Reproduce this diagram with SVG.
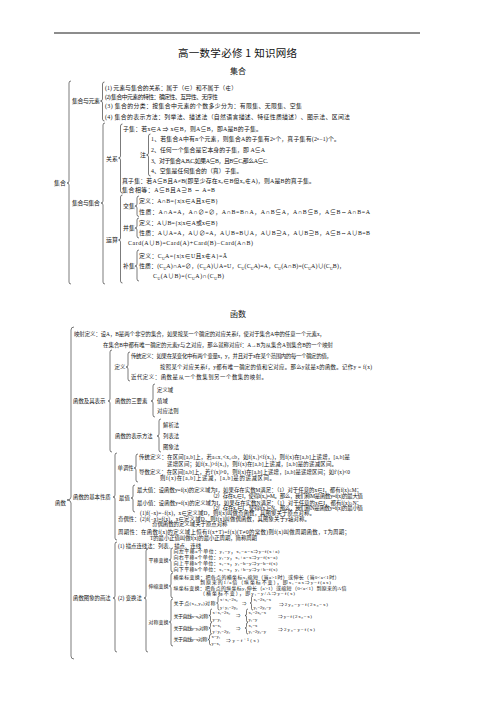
<svg xmlns="http://www.w3.org/2000/svg" width="501" height="709" viewBox="0 0 501 709">
<style>
text{font-family:"Liberation Serif","Noto Sans CJK SC",serif;fill:#111}
.a{font-size:5.9px}
.b{font-size:5.4px}
.c{font-size:5px}
.d{font-size:4.6px}
.s{font-size:3.8px}
.br{fill:none;stroke:#222;stroke-width:0.6}
.ttl{font-family:"Noto Sans CJK SC",sans-serif;font-size:10.5px}
.hd{font-family:"Noto Sans CJK SC",sans-serif;font-size:8px;text-anchor:middle}
</style>
<rect width="501" height="709" fill="#fff"/>
<line x1="54" y1="33" x2="420" y2="33" stroke="#000" stroke-width="0.9"/>
<g id="title"><text class="ttl" x="178" y="57" textLength="119">高一数学必修 1 知识网络</text></g>
<g id="head-jihe"><text class="hd" x="238" y="74">集合</text></g>
<g id="head-hanshu"><text class="hd" x="238" y="317">函数</text></g>

<g id="connectors">
<path class="br" d="M71,81 Q69,81 69,83 L69,181 Q69,183 67,183 Q69,183 69,185 L69,282 Q69,284 71,284"/>
<path class="br" d="M104.5,82 Q102.5,82 102.5,84 L102.5,99 Q102.5,101 100.5,101 Q102.5,101 102.5,103 L102.5,119 Q102.5,121 104.5,121"/>
<path class="br" d="M105,123 Q103,123 103,125 L103,201 Q103,203 101,203 Q103,203 103,205 L103,282 Q103,284 105,284"/>
<path class="br" d="M122.5,124 Q120.5,124 120.5,126 L120.5,156 Q120.5,158 118.5,158 Q120.5,158 120.5,160 L120.5,191 Q120.5,193 122.5,193"/>
<path class="br" d="M150.5,134 Q148.5,134 148.5,136 L148.5,153 Q148.5,155 146.5,155 Q148.5,155 148.5,157 L148.5,174 Q148.5,176 150.5,176"/>
<path class="br" d="M122.5,195 Q120.5,195 120.5,197 L120.5,238 Q120.5,240 118.5,240 Q120.5,240 120.5,242 L120.5,281 Q120.5,283 122.5,283"/>
<path class="br" d="M139,196 Q137,196 137,198 L137,204 Q137,206 135,206 Q137,206 137,208 L137,214.5 Q137,216.5 139,216.5"/>
<path class="br" d="M139,218 Q137,218 137,220 L137,226 Q137,228 135,228 Q137,228 137,230 L137,236 Q137,238 139,238"/>
<path class="br" d="M139,250 Q137,250 137,252 L137,264 Q137,266 135,266 Q137,266 137,268 L137,279 Q137,281 139,281"/>

<path class="br" d="M74,327 Q71,327 71,330 L71,497 Q71,500 67,500 Q71,500 71,503 L71,656 Q71,659 74,659"/>
<path class="br" d="M112,350 Q110,350 110,352 L110,399 Q110,401 108,401 Q110,401 110,403 L110,450 Q110,452 112,452"/>
<path class="br" d="M130,352 Q128,352 128,354 L128,365 Q128,367 126,367 Q128,367 128,369 L128,379 Q128,381 130,381"/>
<path class="br" d="M155,384 Q153,384 153,386 L153,399 Q153,401 151,401 Q153,401 153,403 L153,415 Q153,417 155,417"/>
<path class="br" d="M161,419 Q159,419 159,421 L159,434 Q159,436 157,436 Q159,436 159,438 L159,450 Q159,452 161,452"/>
<path class="br" d="M117,453 Q115,453 115,455 L115,495 Q115,497 113,497 Q115,497 115,499 L115,538 Q115,540 117,540"/>
<path class="br" d="M138,454 Q136,454 136,456 L136,466 Q136,468 134,468 Q136,468 136,470 L136,480 Q136,482 138,482"/>
<path class="br" d="M135,485 Q133,485 133,487 L133,496 Q133,498 131,498 Q133,498 133,500 L133,510 Q133,512 135,512"/>
<path class="br" d="M117,542 Q115,542 115,544 L115,596 Q115,598 113,598 Q115,598 115,600 L115,650 Q115,652 117,652"/>
<path class="br" d="M148,549 Q146,549 146,551 L146,596 Q146,598 144,598 Q146,598 146,600 L146,650 Q146,652 148,652"/>
<path class="br" d="M173,548 Q171,548 171,550 L171,558 Q171,560 169.2,560 Q171,560 171,562 L171,570 Q171,572 173,572"/>
<path class="br" d="M173,573 Q171,573 171,575 L171,584 Q171,586 169.2,586 Q171,586 171,588 L171,596 Q171,598 173,598"/>
<path class="br" d="M173,599 Q171,599 171,601 L171,620 Q171,622 169.2,622 Q171,622 171,624 L171,644 Q171,646 173,646"/>
<path class="br" d="M219.5,596 Q218,596 218,597.5 L218,601.5 Q218,603 216.5,603 Q218,603 218,604.5 L218,608.5 Q218,610 219.5,610"/>
<path class="br" d="M253,596 Q251.5,596 251.5,597.5 L251.5,601.5 Q251.5,603 250,603 Q251.5,603 251.5,604.5 L251.5,608.5 Q251.5,610 253,610"/>
<path class="br" d="M212,609 Q210.5,609 210.5,610.5 L210.5,614 Q210.5,615.5 209,615.5 Q210.5,615.5 210.5,617 L210.5,620.5 Q210.5,622 212,622"/>
<path class="br" d="M248,609 Q246.5,609 246.5,610.5 L246.5,614 Q246.5,615.5 245,615.5 Q246.5,615.5 246.5,617 L246.5,620.5 Q246.5,622 248,622"/>
<path class="br" d="M212,622.5 Q210.5,622.5 210.5,624 L210.5,626.5 Q210.5,628 209,628 Q210.5,628 210.5,629.5 L210.5,632.5 Q210.5,634 212,634"/>
<path class="br" d="M248,622.5 Q246.5,622.5 246.5,624 L246.5,626.5 Q246.5,628 245,628 Q246.5,628 246.5,629.5 L246.5,632.5 Q246.5,634 248,634"/>
<path class="br" d="M211,634.5 Q209.5,634.5 209.5,636 L209.5,638 Q209.5,639.5 208,639.5 Q209.5,639.5 209.5,641 L209.5,643.5 Q209.5,645 211,645"/>
</g>

<!-- 集合 section -->
<g id="n-jihe"><text class="a" x="54" y="185.2">集合</text></g>
<g id="n-jhyys"><text class="a" x="72" y="103.2" textLength="28">集合与元素</text></g>
<g id="n-e1"><text class="a" x="105" y="89.7">(1) 元素与集合的关系：属于（∈）和不属于（∉）</text></g>
<g id="n-e2"><text class="a" x="105" y="98.7" textLength="113">(2) 集合中元素的特性：确定性、互异性、无序性</text></g>
<g id="n-e3"><text class="a" x="105" y="107.7" textLength="197">(3) 集合的分类：按集合中元素的个数多少分为：有限集、无限集、空集</text></g>
<g id="n-e4"><text class="a" x="105" y="118.7" textLength="245">(4) 集合的表示方法：列举法、描述法（自然语言描述、特征性质描述）、图示法、区间法</text></g>
<g id="n-jhyjh"><text class="a" x="72" y="205.2" textLength="28">集合与集合</text></g>
<g id="n-guanxi"><text class="a" x="106" y="161">关系</text></g>
<g id="n-ziji"><text class="a" x="123" y="131.2" textLength="139">子集：若x∈A ⇒ x∈B，则A⊆B，即A是B的子集。</text></g>
<g id="n-zhu"><text class="a" x="140" y="157.2">注</text></g>
<g id="n-z1"><text class="a" x="151" y="141.2" textLength="189">1、若集合A中有n个元素，则集合A的子集有2ⁿ个，真子集有(2ⁿ−1)个。</text></g>
<g id="n-z2"><text class="a" x="151" y="151.7" textLength="114">2、任何一个集合是它本身的子集，即 A⊆A</text></g>
<g id="n-z3"><text class="a" x="151" y="162.7" textLength="117">3、对于集合A,B,C,如果A⊆B，且B⊆C,那么A⊆C.</text></g>
<g id="n-z4"><text class="a" x="151" y="173.2">4、空集是任何集合的（真）子集。</text></g>
<g id="n-zhenziji"><text class="a" x="122" y="183.2" textLength="193">真子集：若A⊆B且A≠B(即至少存在x₀∈B但x₀∉A)，则A是B的真子集。</text></g>
<g id="n-xiangdeng"><text class="a" x="122" y="192.2" textLength="93">集合相等：A⊆B且A⊇B ⇔ A=B</text></g>
<g id="n-yunsuan"><text class="a" x="106" y="242.2">运算</text></g>
<g id="n-jiaoji"><text class="a" x="123" y="208.2">交集</text></g>
<g id="n-jj1"><text class="a" x="139" y="203.2" textLength="79">定义：A∩B={x|x∈A且x∈B}</text></g>
<g id="n-jj2"><text class="a" x="139" y="214.2" textLength="231">性质：A∩A=A，A∩∅=∅，A∩B=B∩A，A∩B⊆A，A∩B⊆B，A⊆B⇔A∩B=A</text></g>
<g id="n-bingji"><text class="a" x="123" y="230.2">并集</text></g>
<g id="n-bj1"><text class="a" x="139" y="225.2" textLength="79">定义：A∪B={x|x∈A或x∈B}</text></g>
<g id="n-bj2"><text class="a" x="139" y="235.2" textLength="231">性质：A∪A=A，A∪∅=A，A∪B=B∪A，A∪B⊇A，A∪B⊇B，A⊆B⇔A∪B=B</text></g>
<g id="n-card"><text class="a" x="128" y="245.2" textLength="125">Card(A∪B)=Card(A)+Card(B)−Card(A∩B)</text></g>
<g id="n-buji"><text class="a" x="123" y="268.2">补集</text></g>
<g id="n-bu1"><text class="a" x="139" y="258.2" textLength="88">定义：C<tspan class="s" dy="1.3">U</tspan><tspan dy="-1.3">A={x|x∈U且x∉A}=Ā</tspan></text></g>
<g id="n-bu2"><text class="a" x="139" y="268.2" textLength="206">性质：(C<tspan class="s" dy="1.3">U</tspan><tspan dy="-1.3">A)∩A=∅，(C</tspan><tspan class="s" dy="1.3">U</tspan><tspan dy="-1.3">A)∪A=U，C</tspan><tspan class="s" dy="1.3">U</tspan><tspan dy="-1.3">(C</tspan><tspan class="s" dy="1.3">U</tspan><tspan dy="-1.3">A)=A，C</tspan><tspan class="s" dy="1.3">U</tspan><tspan dy="-1.3">(A∩B)=(C</tspan><tspan class="s" dy="1.3">U</tspan><tspan dy="-1.3">A)∪(C</tspan><tspan class="s" dy="1.3">U</tspan><tspan dy="-1.3">B)，</tspan></text></g>
<g id="n-bu3"><text class="a" x="153" y="278.2" textLength="71">C<tspan class="s" dy="1.3">U</tspan><tspan dy="-1.3">(A∪B)=(C</tspan><tspan class="s" dy="1.3">U</tspan><tspan dy="-1.3">A)∩(C</tspan><tspan class="s" dy="1.3">U</tspan><tspan dy="-1.3">B)</tspan></text></g>

<!-- 函数 section -->
<g id="n-hanshu"><text class="b" x="55" y="505">函数</text></g>
<g id="n-yingshe">
<text class="b" x="74" y="336" textLength="251">映射定义：设A，B是两个非空的集合，如果按某一个确定的对应关系f，使对于集合A中的任意一个元素x，</text>
<text class="b" x="103" y="347" textLength="230">在集合B中都有唯一确定的元素y与之对应，那么就称对应f：A→B为从集合A到集合B的一个映射</text>
</g>
<g id="n-biaoshi"><text class="b" x="73" y="403">函数及其表示</text></g>
<g id="n-dingyi"><text class="b" x="114.5" y="369">定义</text></g>
<g id="n-chuantong">
<text class="b" x="131" y="358" textLength="201">传统定义：如果在某变化中有两个变量x，y，并且对于x在某个范围内的每一个确定的值，</text>
<text class="b" x="160" y="368.5" textLength="212">按照某个对应关系f，y都有唯一确定的值和它对应。那么y就是x的函数。记作y = f(x)</text>
</g>
<g id="n-jindai"><text class="b" x="131" y="379" textLength="136">近代定义：函数是从一个数集到另一个数集的映射。</text></g>
<g id="n-sanyaosu"><text class="b" x="115" y="403">函数的三要素</text></g>
<g id="n-dyy"><text class="b" x="157" y="392">定义域</text></g>
<g id="n-zy"><text class="b" x="157" y="403">值域</text></g>
<g id="n-dyfz"><text class="b" x="157" y="413">对应法则</text></g>
<g id="n-bsff"><text class="b" x="115" y="438">函数的表示方法</text></g>
<g id="n-jxf"><text class="b" x="163" y="427">解析法</text></g>
<g id="n-lbf"><text class="b" x="163" y="438">列表法</text></g>
<g id="n-txf"><text class="b" x="163" y="449">图象法</text></g>

<g id="n-xingzhi"><text class="b" x="73" y="499">函数的基本性质</text></g>
<g id="n-dandiao"><text class="b" x="117.5" y="470">单调性</text></g>
<g id="n-dd1">
<text class="b" x="139" y="459" textLength="211">传统定义：在区间[a,b]上，若a≤x₁&lt;x₂≤b，如f(x₁)&lt;f(x₂)，则f(x)在[a,b]上递增，[a,b]是</text>
<text class="b" x="167" y="465.5" textLength="170">递增区间；如f(x₁)&gt;f(x₂)，则f(x)在[a,b]上递减，[a,b]是的递减区间。</text>
</g>
<g id="n-dd2">
<text class="b" x="139" y="473.5" textLength="211">导数定义：在区间[a,b]上，若f′(x)&gt;0，则f(x)在[a,b]上递增，[a,b]是递增区间；如f′(x)&lt;0</text>
<text class="b" x="160" y="480" textLength="115">则f(x)在[a,b]上递减，[a,b]是的递减区间。</text>
</g>
<g id="n-zuizhi"><text class="b" x="119" y="500">最值</text></g>
<g id="n-zd">
<text class="b" x="137" y="492" textLength="225">最大值：设函数y=f(x)的定义域为I，如果存在实数M满足：（1）对于任意的x∈I，都有f(x)≤M；</text>
<text class="b" x="210" y="497.5" textLength="153">（2）存在x₀∈I，使得f(x₀)=M。那么，我们称M是函数y=f(x)的最大值</text>
</g>
<g id="n-zx">
<text class="b" x="137" y="504.5" textLength="225">最小值：设函数y=f(x)的定义域为I，如果存在实数N满足：（1）对于任意的x∈I，都有f(x)≥N；</text>
<text class="b" x="210" y="510" textLength="153">（2）存在x₀∈I，使得f(x₀)=N。那么，我们称N是函数y=f(x)的最小值</text>
</g>
<g id="n-jiou">
<text class="b" x="118" y="520.5">奇偶性：</text>
<text class="b" x="140" y="515" textLength="175">(1)f(−x)=−f(x)，x∈定义域D，则f(x)叫做奇函数，其图象关于原点对称。</text>
<text class="b" x="140" y="520.5" textLength="170">(2)f(−x)=f(x)，x∈定义域D，则f(x)叫做偶函数，其图象关于y轴对称。</text>
<text class="b" x="152" y="526">奇偶函数的定义域关于原点对称</text>
</g>
<g id="n-zhouqi">
<text class="b" x="118" y="534" textLength="232">周期性：在函数f(x)的定义域上恒有f(x+T)=f(x)(T≠0的常数)则f(x)叫做周期函数，T为周期；</text>
<text class="b" x="150" y="539.5" textLength="107">T的最小正值叫做f(x)的最小正周期，简称周期</text>
</g>

<g id="n-huafa"><text class="b" x="73" y="600">函数图象的画法</text></g>
<g id="n-miaodian"><text class="b" x="118" y="548">(1) 描点连线法：列表、描点、连线</text></g>
<g id="n-bianhuan"><text class="b" x="118" y="600">(2) 变换法</text></g>
<g id="n-pingyi"><text class="c" x="148.5" y="562">平移变换</text></g>
<g id="n-py">
<text class="c" x="173.5" y="552.8" textLength="106">向左平移a个单位：y₁=y，x₁−a=x⇒y=f(x+a)</text>
<text class="c" x="173.5" y="558.8" textLength="104">向右平移a个单位：y₁=y，x₁+a=x⇒y=f(x−a)</text>
<text class="c" x="173.5" y="564.8" textLength="104">向上平移b个单位：x₁=x，y₁−b=y⇒y−b=f(x)</text>
<text class="c" x="173.5" y="570.8" textLength="104">向下平移b个单位：x₁=x，y₁+b=y⇒y+b=f(x)</text>
</g>
<g id="n-shensuo"><text class="c" x="148.5" y="588">伸缩变换</text></g>
<g id="n-ss">
<text class="c" x="173.5" y="578.8" textLength="166">横坐标变换：把各点的横坐标x₁缩短（当a&gt;1时）或伸长（当0&lt;a&lt;1时）</text>
<text class="c" x="200" y="584" textLength="131">到原来的1/a倍（纵坐标不变），即x₁=ax⇒y=f(ax)</text>
<text class="c" x="173.5" y="589.5" textLength="173">纵坐标变换：把各点的纵坐标y₁伸长（a&gt;1）或缩短（0&lt;a&lt;1）到原来的A倍</text>
<text class="c" x="200" y="595" textLength="95">（横坐标不变），即y₁=y/A⇒y=f(x)</text>
</g>
<g id="n-duicheng"><text class="c" x="148.5" y="624">对称变换</text></g>
<g id="n-dc1">
<text class="c" x="173.5" y="604.8" textLength="42">关于点(x₀,y₀)对称</text>
<text class="d" x="220" y="601">x+x₁=2x₀</text>
<text class="d" x="220" y="609">y+y₁=2y₀</text>
<text class="d" x="242" y="605">⇒</text>
<text class="d" x="253.5" y="601">x₁=2x₀−x</text>
<text class="d" x="253.5" y="609">y₁=2y₀−y</text>
<text class="c" x="279" y="605.8" textLength="49">⇒2y₀−y=f(2x₀−x)</text>
</g>
<g id="n-dc2">
<text class="c" x="173.5" y="617.8" textLength="35">关于直线x=x₀对称</text>
<text class="d" x="212.5" y="613.5">x+x₁=2x₀</text>
<text class="d" x="212.5" y="620.5">y=y₁</text>
<text class="d" x="236" y="617">⇒</text>
<text class="d" x="248.5" y="613.5">x₁=2x₀−x</text>
<text class="d" x="248.5" y="620.5">y₁=y</text>
<text class="c" x="278" y="617.8" textLength="34">⇒y=f(2x₀−x)</text>
</g>
<g id="n-dc3">
<text class="c" x="173.5" y="629.8" textLength="35">关于直线y=y₀对称</text>
<text class="d" x="212.5" y="626.5">x=x₁</text>
<text class="d" x="212.5" y="633">y+y₁=2y₀</text>
<text class="d" x="236" y="630">⇒</text>
<text class="d" x="248.5" y="626.5">x₁=x</text>
<text class="d" x="248.5" y="633">y₁=2y₀−y</text>
<text class="c" x="278" y="630.5" textLength="37">⇒2y₀−y=f(x)</text>
</g>
<g id="n-dc4">
<text class="c" x="173.5" y="640.8" textLength="34">关于直线y=x对称</text>
<text class="d" x="211.5" y="638">x=y₁</text>
<text class="d" x="211.5" y="644.5">y=x₁</text>
<text class="c" x="226" y="641.5" textLength="33">⇒y=f⁻¹(x)</text>
</g>
</svg>
